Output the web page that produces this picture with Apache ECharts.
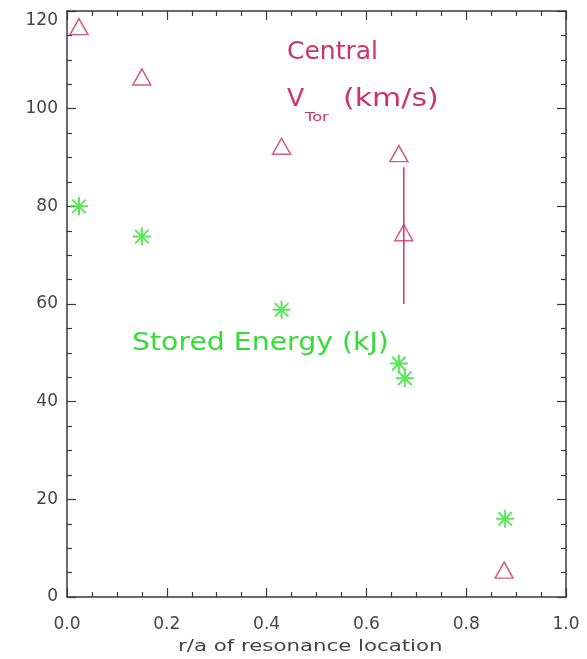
<!DOCTYPE html>
<html>
<head>
<meta charset="utf-8">
<script src="https://cdn.jsdelivr.net/npm/echarts@6/dist/echarts.min.js"></script>
<style>
  html, body { margin: 0; padding: 0; background: #fff; }
  #main { width: 587px; height: 659px; }
</style>
</head>
<body>
<div id="main"></div>
<script>
// data
var xTicks = [0.0, 0.2, 0.4, 0.6, 0.8, 1.0];
var yTicks = [0, 20, 40, 60, 80, 100, 120];

// central toroidal velocity (km/s)
var vtorX = [0.024, 0.15, 0.43, 0.665, 0.675, 0.876];
var vtorY = [116.8, 106.5, 92.3, 90.8, 74.6, 5.5];
// error bar on the 0.675 point
var errX = [0.675, 0.675];
var errY = [60, 88];

// stored energy (kJ)
var energyX = [0.024, 0.15, 0.43, 0.665, 0.677, 0.878];
var energyY = [80, 73.8, 58.8, 47.8, 44.8, 16];

var red = '#cc3366';
var green = '#33dd33';
var axisColor = '#3a3a3a';
var labelColor = '#444';
var font = 'DejaVu Sans';

var myChart = echarts.init(document.getElementById('main'));

function pairs(xs, ys) {
    var out = [];
    for (var i = 0; i < xs.length; i++) out.push([xs[i], ys[i]]);
    return out;
}

var asterisk = 'path://M0,-10L0,10M-10,0L10,0M-7.5,-7.5L7.5,7.5M-7.5,7.5L7.5,-7.5';

function xAxisCfg(pos, showLabel) {
    return {
        type: 'value',
        position: pos,
        min: xTicks[0],
        max: xTicks[xTicks.length - 1],
        interval: 0.2,
        axisLine: {show: true, onZero: false, lineStyle: {color: axisColor, width: 1.5}},
        axisTick: {show: true, inside: true, length: 9, lineStyle: {color: axisColor, width: 1.2}},
        minorTick: {show: true, splitNumber: 4, length: 5, lineStyle: {color: axisColor, width: 1.2}},
        axisLabel: {
            show: showLabel, margin: 19, color: labelColor, fontSize: 17, fontFamily: font,
            formatter: function (v) { return v.toFixed(1); }
        },
        splitLine: {show: false}
    };
}

function yAxisCfg(pos, showLabel) {
    return {
        type: 'value',
        position: pos,
        min: yTicks[0],
        max: yTicks[yTicks.length - 1],
        interval: 20,
        axisLine: {show: true, onZero: false, lineStyle: {color: axisColor, width: 1.5}},
        axisTick: {show: true, inside: true, length: 9, lineStyle: {color: axisColor, width: 1.2}},
        minorTick: {show: true, splitNumber: 4, length: 5, lineStyle: {color: axisColor, width: 1.2}},
        axisLabel: {
            show: showLabel, margin: 9, color: labelColor, fontSize: 17, fontFamily: font,
            formatter: function (v) { return v === 120 ? '{t|120}' : '' + v; },
            rich: {t: {color: labelColor, fontSize: 17, fontFamily: font, padding: [20, 0, 0, 0]}}
        },
        splitLine: {show: false}
    };
}

var option = {
    backgroundColor: '#fff',
    animation: false,
    grid: {left: 67, right: 21, top: 11, bottom: 62},
    xAxis: [xAxisCfg('bottom', true), xAxisCfg('top', false)],
    yAxis: [yAxisCfg('left', true), yAxisCfg('right', false)],
    graphic: [
        {
            type: 'text', x: 287, y: 40,
            style: {text: 'Central', fill: red, font: '25px "DejaVu Sans"', verticalAlign: 'top'}
        },
        {
            type: 'text', x: 287, y: 87,
            style: {text: 'V', fill: red, font: '25px "DejaVu Sans"', verticalAlign: 'top'}
        },
        {
            type: 'text', x: 305, y: 112,
            style: {text: 'Tor', fill: red, font: '12px "DejaVu Sans"', verticalAlign: 'top'},
            scaleX: 1.35
        },
        {
            type: 'text', x: 343, y: 87,
            style: {text: '(km/s)', fill: red, font: '25px "DejaVu Sans"', verticalAlign: 'top'},
            scaleX: 1.2
        },
        {
            type: 'text', x: 132, y: 332,
            style: {text: 'Stored Energy (kJ)', fill: green, font: '24px "DejaVu Sans"', verticalAlign: 'top'},
            scaleX: 1.18
        },
        {
            type: 'text', x: 178, y: 639,
            style: {text: 'r/a of resonance location', fill: labelColor, font: '16px "DejaVu Sans"', verticalAlign: 'top'},
            scaleX: 1.33
        }
    ],
    series: [
        {
            name: 'error',
            type: 'line',
            data: pairs(errX, errY),
            symbol: 'none',
            lineStyle: {color: red, width: 1.5},
            silent: true
        },
        {
            name: 'Central VTor',
            type: 'scatter',
            data: pairs(vtorX, vtorY),
            symbol: 'triangle',
            symbolSize: [18, 16],
            itemStyle: {color: 'rgba(0,0,0,0)', borderColor: red, borderWidth: 1.5}
        },
        {
            name: 'Stored Energy',
            type: 'scatter',
            data: pairs(energyX, energyY),
            symbol: asterisk,
            symbolSize: 18,
            itemStyle: {color: 'rgba(0,0,0,0)', borderColor: green, borderWidth: 2}
        }
    ]
};

myChart.setOption(option);
window.onresize = function () {
    myChart.resize();
};
</script>
</body>
</html>
